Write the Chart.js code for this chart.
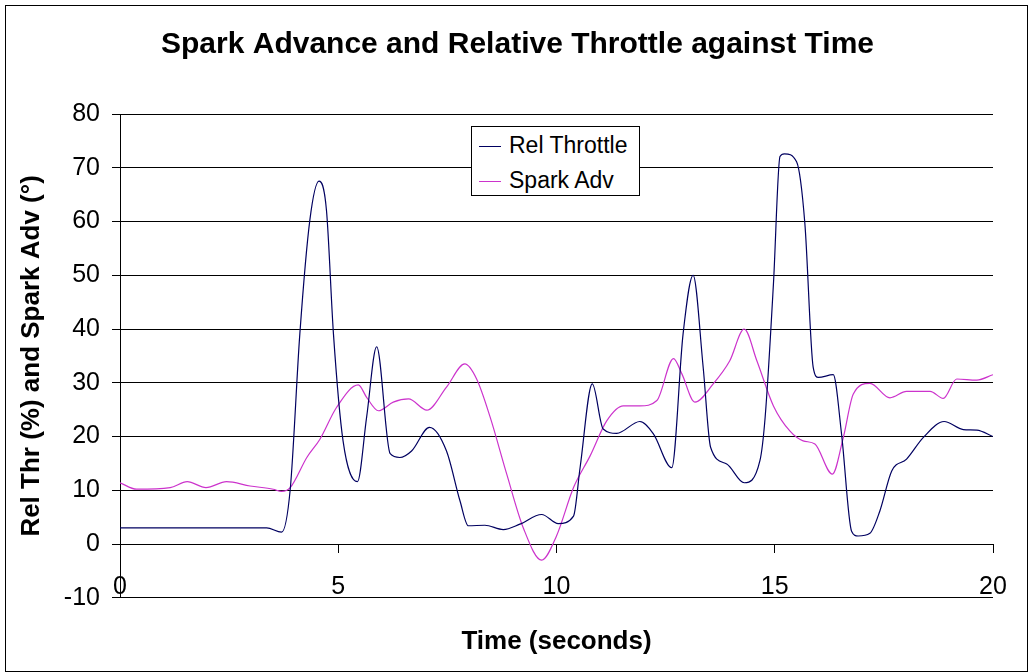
<!DOCTYPE html>
<html>
<head>
<meta charset="utf-8">
<script src="https://cdn.jsdelivr.net/npm/chart.js@4.4.0/dist/chart.umd.min.js"></script>
<style>
  body { margin: 0; background: #fff; }
  #wrap { position: relative; width: 1032px; height: 672px; }
  #frame { position: absolute; left: 5px; top: 5px; width: 1023px; height: 667px; border: 1px solid #000; box-sizing: border-box; pointer-events: none; }
  #legendBox {
    position: absolute; left: 471px; top: 126px; width: 169px; height: 70px;
    border: 1px solid #000; background: #fff; box-sizing: border-box;
    font-family: "Liberation Sans", Arial, sans-serif; font-size: 23px; color: #000;
  }
  .row { position: absolute; left: 7px; height: 26px; line-height: 26px; white-space: nowrap; }
  .swatch { display: inline-block; width: 22px; height: 0; border-top: 1px solid; vertical-align: middle; margin-right: 8px; }
</style>
</head>
<body>
<div id="wrap">
  <canvas id="sparkChart" width="1032" height="672"></canvas>
  <div id="frame"></div>
  <div id="legendBox">
    <div class="row" style="top:5px"><span class="swatch" style="border-color:#000060"></span>Rel Throttle</div>
    <div class="row" style="top:40px"><span class="swatch" style="border-color:#cc33cc"></span>Spark Adv</div>
  </div>
</div>
<script>
const thrTime = [0, 3.36, 3.7, 3.9, 4.12, 4.35, 4.56, 4.73, 4.89, 5.11, 5.44, 5.65, 5.88, 6.19, 6.41, 6.68,
  7.09, 7.48, 7.79, 7.98, 8.36, 8.78, 9.16, 9.66, 10.04, 10.39, 10.54, 10.82, 11.07, 11.38, 11.91, 12.22,
  12.64, 12.9, 13.13, 13.36, 13.53, 13.9, 14.3, 14.66, 14.78, 14.97, 15.12, 15.22, 15.5, 15.69, 15.88, 16.0,
  16.34, 16.53, 16.76, 16.91, 17.18, 17.41, 17.68, 18.02, 18.4, 18.88, 19.32, 19.63, 20];
const relThrottle = [3, 3, 2.2, 10.2, 39.1, 60.3, 67.5, 62.1, 39.1, 19.2, 11.6, 23.6, 36.7, 16.8, 16.1, 17.3,
  21.7, 17.3, 8, 3.4, 3.5, 2.7, 3.7, 5.5, 3.8, 5.2, 14.2, 29.8, 21.4, 20.6, 22.8, 20.5,
  14.2, 39.1, 50, 32.9, 18, 14.9, 11.4, 15.5, 23.6, 48.4, 72.1, 72.6, 71.1, 59.6, 32.9, 31,
  31.5, 20.5, 2.4, 1.5, 2, 6.2, 13.6, 15.8, 19.8, 22.8, 21.3, 21.2, 20];

const sparkTime = [0, 0.38, 1.15, 1.54, 1.97, 2.44, 2.98, 3.51, 3.7, 3.9, 4.28, 4.58, 4.96, 5.46, 5.65, 5.92,
  6.26, 6.61, 7.03, 7.48, 7.9, 8.17, 8.48, 8.86, 9.24, 9.66, 10.0, 10.39, 10.77, 11.15, 11.53, 11.91,
  12.3, 12.68, 12.87, 13.17, 13.59, 13.97, 14.3, 14.59, 14.97, 15.35, 15.65, 15.92, 16.32, 16.57, 16.8,
  17.18, 17.64, 18.02, 18.56, 18.86, 19.17, 19.63, 20];
const sparkAdv = [11.4, 10.2, 10.5, 11.6, 10.5, 11.6, 10.8, 10.2, 9.8, 10.5, 16.1, 19.5, 25.4, 29.6, 27.3, 24.8,
  26.4, 27, 24.9, 29.2, 33.5, 30.7, 23.6, 13, 3, -3, 1.5, 10.5, 16.4, 22.9, 25.7, 25.7,
  26.7, 34.5, 31.7, 26.4, 29.8, 34.1, 40, 34.1, 25.7, 21, 19.2, 18.6, 13, 19.8, 27.9,
  29.9, 27.2, 28.4, 28.4, 27.1, 30.7, 30.5, 31.5];

const xTicks = [0, 5, 10, 15, 20];
const yTicks = [-10, 0, 10, 20, 30, 40, 50, 60, 70, 80];

const fontFam = '"Liberation Sans", Arial, sans-serif';

const ctx = document.getElementById('sparkChart').getContext('2d');
const sparkChart = new Chart(ctx, {
  type: 'line',
  data: {
    datasets: [{
      label: 'Rel Throttle',
      data: thrTime.map((t, i) => ({ x: t, y: relThrottle[i] })),
      borderColor: '#000060',
      borderWidth: 1.2,
      pointRadius: 0,
      cubicInterpolationMode: 'monotone'
    }, {
      label: 'Spark Adv',
      data: sparkTime.map((t, i) => ({ x: t, y: sparkAdv[i] })),
      borderColor: '#cc33cc',
      borderWidth: 1.2,
      pointRadius: 0,
      cubicInterpolationMode: 'monotone'
    }]
  },
  options: {
    responsive: false,
    animation: false,
    // left padding keeps the main title centred on the whole frame
    layout: { padding: { left: 42, right: 39, top: 0, bottom: 0 } },
    plugins: {
      legend: { display: false },
      tooltip: { enabled: false },
      title: {
        display: true,
        text: 'Spark Advance and Relative Throttle against Time',
        color: '#000',
        font: { family: fontFam, size: 30, weight: 'bold' },
        padding: { top: 27, bottom: 51 }
      },
      subtitle: {
        display: true,
        position: 'bottom',
        fullSize: false,   // centred under the plot area
        text: 'Time (seconds)',
        color: '#000',
        font: { family: fontFam, size: 26, weight: 'bold' },
        padding: { top: 28, bottom: 15 }
      }
    },
    scales: {
      x: {
        type: 'linear',
        min: 0,
        max: 20,
        position: { y: 0 },   // axis crosses at zero like the original
        afterBuildTicks: axis => { axis.ticks = xTicks.map(v => ({ value: v })); },
        ticks: { color: '#000', font: { family: fontFam, size: 25 }, padding: 20, maxRotation: 0 },
        grid: { drawOnChartArea: false, drawTicks: true, tickLength: 8, color: '#000' },
        border: { color: '#000', width: 1 }
      },
      y: {
        min: -10,
        max: 80,
        afterBuildTicks: axis => { axis.ticks = yTicks.map(v => ({ value: v })); },
        afterFit: axis => { axis.width = 78; },
        ticks: { color: '#000', font: { family: fontFam, size: 25 }, padding: 12 },
        grid: { color: '#000', lineWidth: 1, tickLength: 8 },
        border: { color: '#000', width: 1 },
        title: {
          display: true,
          text: 'Rel Thr (%) and Spark Adv (°)',
          color: '#000',
          font: { family: fontFam, size: 26, weight: 'bold' },
          padding: { top: -26, bottom: 0 }
        }
      }
    }
  }
});
</script>
</body>
</html>
